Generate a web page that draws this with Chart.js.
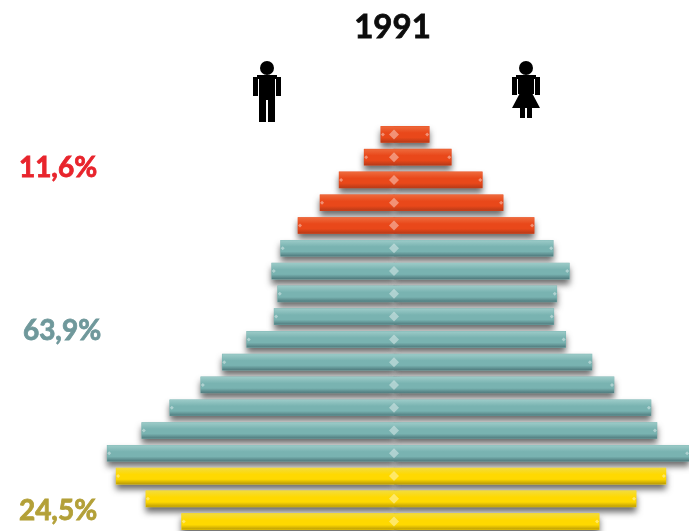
<!DOCTYPE html>
<html>
<head>
<meta charset="utf-8">
<script src="https://cdn.jsdelivr.net/npm/chart.js@4"></script>
<style>
html, body { margin: 0; background: #fff; overflow: hidden; }
canvas { filter: blur(0.7px); }
</style>
</head>
<body>
<canvas id="pyramid" width="689" height="540"></canvas>
<script>
const titleText = '1991';
const ageGroups = ['85+', '80-84', '75-79', '70-74', '65-69', '60-64', '55-59', '50-54', '45-49',
    '40-44', '35-39', '30-34', '25-29', '20-24', '15-19', '10-14', '5-9', '0-4'];
// Share of the total population, in %
const maleValues = [0.22, 0.50, 0.92, 1.24, 1.61, 1.90, 2.05, 1.95, 2.01,
    2.47, 2.88, 3.24, 3.76, 4.23, 4.81, 4.66, 4.16, 3.56];
const femaleValues = [0.59, 0.96, 1.48, 1.83, 2.35, 2.67, 2.94, 2.73, 2.68,
    2.88, 3.32, 3.69, 4.31, 4.41, 4.95, 4.56, 4.06, 3.44];
const groupShares = ['11,6%', '63,9%', '24,5%'];
const groupSizes = [5, 10, 3];

const groupColors = [
    { top: '#ee6a3c', mid: '#e9481a', bottom: '#b83a18', label: '#e8242c' },
    { top: '#9ccbc8', mid: '#79b3b1', bottom: '#4f7a7d', label: '#6f989b' },
    { top: '#f3dc3a', mid: '#ffd900', bottom: '#bb9c06', label: '#b3a038' }
];

// Which group a bar belongs to
function groupOf(index) {
    let end = 0;
    for (let g = 0; g < groupSizes.length; g++) {
        end += groupSizes[g];
        if (index < end) return g;
    }
    return groupSizes.length - 1;
}

function barColor(c) {
    return groupColors[groupOf(c.dataIndex)].mid;
}

function diamond(ctx, x, y, r) {
    ctx.beginPath();
    ctx.moveTo(x, y - r);
    ctx.lineTo(x + r, y);
    ctx.lineTo(x, y + r);
    ctx.lineTo(x - r, y);
    ctx.closePath();
    ctx.fill();
}

// Bars get a soft drop shadow
const barShadow = {
    id: 'barShadow',
    beforeDatasetDraw(chart) {
        const ctx = chart.ctx;
        ctx.save();
        ctx.shadowColor = 'rgba(60, 60, 60, 0.75)';
        ctx.shadowBlur = 6;
        ctx.shadowOffsetY = 5;
    },
    afterDatasetDraw(chart) {
        chart.ctx.restore();
    }
};

// Vertical shading on each bar plus the little light markers
const barGloss = {
    id: 'barGloss',
    afterDatasetsDraw(chart) {
        const ctx = chart.ctx;
        chart.data.datasets.forEach((ds, i) => {
            chart.getDatasetMeta(i).data.forEach((bar, j) => {
                const p = bar.getProps(['x', 'y', 'base', 'height']);
                const top = p.y - p.height / 2;
                const colors = groupColors[groupOf(j)];
                const g = ctx.createLinearGradient(0, top, 0, top + p.height);
                g.addColorStop(0, colors.top);
                g.addColorStop(0.4, colors.mid);
                g.addColorStop(0.7, colors.mid);
                g.addColorStop(1, colors.bottom);
                ctx.fillStyle = g;
                ctx.fillRect(Math.min(p.x, p.base), top, Math.abs(p.x - p.base), p.height);
                ctx.fillStyle = 'rgba(255, 255, 255, 0.4)';
                diamond(ctx, p.x + (i === 0 ? 2 : -2), p.y, 2);
            });
        });
        chart.getDatasetMeta(0).data.forEach(bar => {
            ctx.fillStyle = 'rgba(255, 255, 255, 0.4)';
            diamond(ctx, bar.base, bar.y, 5);
        });
    }
};

function drawMan(ctx, x) {
    ctx.fillStyle = '#000';
    ctx.beginPath();
    ctx.arc(x, 68, 7, 0, Math.PI * 2);
    ctx.fill();
    ctx.fillRect(x - 14, 77, 5, 19);
    ctx.fillRect(x + 9, 77, 5, 19);
    ctx.fillRect(x - 10, 75, 20, 4);
    ctx.fillRect(x - 8, 75, 16, 25);
    ctx.fillRect(x - 8, 100, 7, 22);
    ctx.fillRect(x + 1, 100, 7, 22);
}

function drawWoman(ctx, x) {
    ctx.fillStyle = '#000';
    ctx.beginPath();
    ctx.arc(x, 68, 7, 0, Math.PI * 2);
    ctx.fill();
    ctx.fillRect(x - 14, 77, 5, 18);
    ctx.fillRect(x + 9, 77, 5, 18);
    ctx.fillRect(x - 10, 75, 20, 4);
    ctx.fillRect(x - 8, 75, 16, 19);
    ctx.beginPath();
    ctx.moveTo(x - 6, 93);
    ctx.lineTo(x + 6, 93);
    ctx.lineTo(x + 14, 108);
    ctx.lineTo(x - 14, 108);
    ctx.closePath();
    ctx.fill();
    ctx.fillRect(x - 6, 107, 5, 11);
    ctx.fillRect(x + 1, 107, 5, 11);
}

// Filled text with a hairline stroke so it survives the blur
function heavyText(ctx, text, x, y, color) {
    ctx.fillStyle = color;
    ctx.strokeStyle = color;
    ctx.lineWidth = 0.8;
    ctx.strokeText(text, x, y);
    ctx.fillText(text, x, y);
}

// Title, figures and the group shares on the left
const decorations = {
    id: 'decorations',
    afterDraw(chart) {
        const ctx = chart.ctx;
        ctx.save();
        ctx.textAlign = 'center';
        ctx.textBaseline = 'alphabetic';
        ctx.font = 'bold 33px Lato';
        heavyText(ctx, titleText, 392.5, 38, '#0c0c0c');
        drawMan(ctx, 267);
        drawWoman(ctx, 526);
        ctx.font = 'bold 28px Lato';
        const labelX = [58, 62, 58];
        const labelY = [177, 340, 520];
        groupShares.forEach((share, g) => {
            heavyText(ctx, share, labelX[g], labelY[g], groupColors[g].label);
        });
        ctx.restore();
    }
};

new Chart(document.getElementById('pyramid').getContext('2d'), {
    type: 'bar',
    data: {
        labels: ageGroups,
        datasets: [
            { label: 'Men', data: maleValues.map(v => -v), backgroundColor: barColor, barThickness: 16 },
            { label: 'Women', data: femaleValues, backgroundColor: barColor, barThickness: 16 }
        ]
    },
    options: {
        indexAxis: 'y',
        responsive: false,
        animation: false,
        layout: { padding: { top: 123, bottom: 7, left: 0, right: 0 } },
        scales: {
            x: { display: false, stacked: true, min: -6.608, max: 4.948 },
            y: { display: false, stacked: true }
        },
        plugins: {
            legend: { display: false },
            tooltip: { enabled: false }
        }
    },
    plugins: [barShadow, barGloss, decorations]
});
</script>
</body>
</html>
